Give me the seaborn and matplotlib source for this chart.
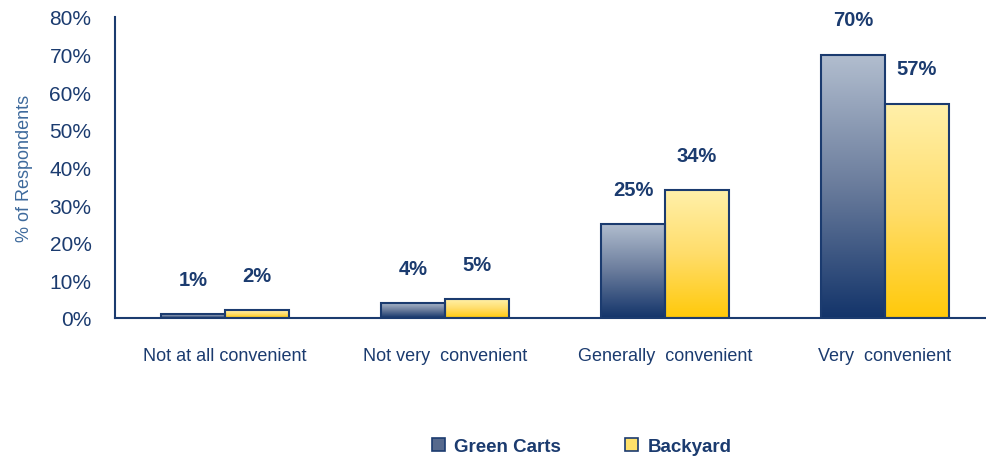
import numpy as np
import pandas as pd
import matplotlib
matplotlib.use("Agg")
import matplotlib.pyplot as plt
import seaborn as sns
from matplotlib.patches import Patch
from matplotlib.colors import LinearSegmentedColormap

categories = ["Not at all convenient", "Not very  convenient", "Generally  convenient", "Very  convenient"]
series = ["Green Carts", "Backyard"]
green_carts = [1, 4, 25, 70]
backyard = [2, 5, 34, 57]
yticks = [0, 10, 20, 30, 40, 50, 60, 70, 80]

NAVY = "#1B3B6F"
LABEL_BLUE = "#3E6A9C"

sns.set_style("white")
plt.rcParams["font.family"] = ["Liberation Sans", "DejaVu Sans"]

df = pd.DataFrame({
    "category": categories * 2,
    "series": [series[0]] * 4 + [series[1]] * 4,
    "value": green_carts + backyard,
})

fig = plt.figure(figsize=(9.86, 4.64), dpi=100)
ax = fig.add_axes([115 / 986, 145 / 464, 880 / 986, 301 / 464])

sns.barplot(data=df, x="category", y="value", hue="series", order=categories,
            hue_order=series, palette=["#5B6D8F", "#FFE16A"], width=0.58,
            edgecolor=NAVY, linewidth=1.5, ax=ax, legend=False, saturation=1)

cmaps = {
    series[0]: LinearSegmentedColormap.from_list("gc", ["#13346A", "#6A7C9C", "#B2BECF"]),
    series[1]: LinearSegmentedColormap.from_list("by", ["#FFC90A", "#FFDD6A", "#FFF0AA"]),
}
grad = np.linspace(0, 1, 256).reshape(-1, 1)
patches = list(ax.patches)
for i, p in enumerate(patches):
    s = series[i // len(categories)]
    x0, y0 = p.get_x(), p.get_y()
    w, h = p.get_width(), p.get_height()
    if h <= 0:
        continue
    im = ax.imshow(grad, cmap=cmaps[s], origin="lower", aspect="auto",
                   extent=[x0, x0 + w, y0, y0 + h], zorder=p.get_zorder() - 0.1)
    im.set_clip_path(p)
    p.set_facecolor("none")
    ax.annotate(f"{int(round(h))}%", (x0 + w / 2, h), xytext=(0, 25),
                textcoords="offset points", ha="center", va="center",
                fontsize=14.5, fontweight="bold", color=NAVY)

ax.set_xlim(-0.5, 3.5)
ax.set_ylim(0, 80)
ax.set_yticks(yticks)
ax.set_yticklabels([f"{v}%" for v in yticks])
ax.set_xlabel("")
ax.set_ylabel("% of Respondents", color=LABEL_BLUE, fontsize=13, labelpad=12)

for side in ["top", "right"]:
    ax.spines[side].set_visible(False)
for side in ["left", "bottom"]:
    ax.spines[side].set_color(NAVY)
    ax.spines[side].set_linewidth(1.5)

ax.tick_params(axis="y", colors=NAVY, labelsize=15, length=5, width=1.5, direction="out", pad=12)
ax.tick_params(axis="x", which="major", length=0, labelsize=13, labelcolor=NAVY, pad=21)
ax.set_xticks([0.5, 1.5, 2.5], minor=True)
ax.tick_params(axis="x", which="minor", length=7, width=1.5, color=NAVY, direction="out")

handles = [Patch(facecolor="#56698D", edgecolor=NAVY, linewidth=1.2),
           Patch(facecolor="#FFE16A", edgecolor=NAVY, linewidth=1.2)]
leg = fig.legend(handles, series, loc="center", bbox_to_anchor=(0.59, 0.035),
                 ncol=2, frameon=False, fontsize=13.5, handlelength=0.7, handleheight=0.7,
                 columnspacing=3.4, handletextpad=0.5)
for t in leg.get_texts():
    t.set_color(NAVY)
    t.set_fontweight("bold")

fig.savefig("out.png", dpi=100)
